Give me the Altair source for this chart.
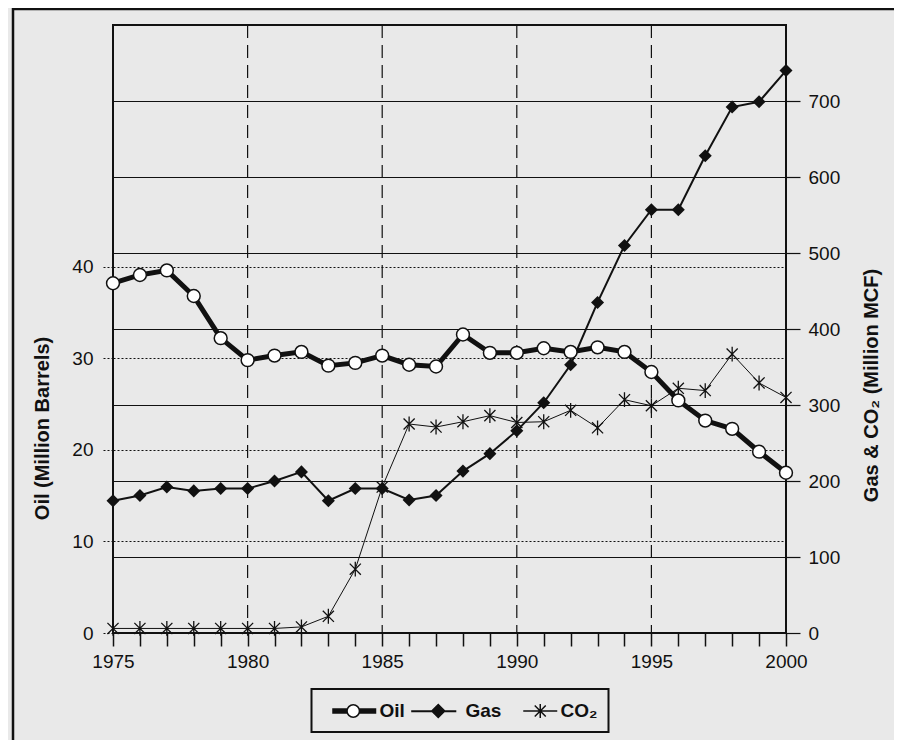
import altair as alt
import pandas as pd

# ---------------- data ----------------
years = list(range(1975, 2001))
oil = [38.2, 39.1, 39.6, 36.8, 32.2, 29.8, 30.3, 30.7, 29.2, 29.5, 30.3, 29.3, 29.1,
       32.6, 30.6, 30.6, 31.1, 30.7, 31.2, 30.7, 28.5, 25.4, 23.2, 22.3, 19.8, 17.5]
gas = [174, 181, 192, 187, 190, 190, 200, 212, 174, 190, 190, 175, 181,
       213, 236, 266, 303, 353, 435, 510, 557, 557, 628, 692, 699, 740]
co2 = [6, 6, 6, 6, 6, 6, 6, 8, 22, 84, 192, 275, 271,
       278, 286, 277, 278, 293, 270, 307, 299, 322, 319, 367, 329, 310]
series_names = ["Oil", "Gas", "CO\u2082"]
oil_ticks = [0, 10, 20, 30, 40]
gas_ticks = [0, 100, 200, 300, 400, 500, 600, 700]
grid_years = [1980, 1985, 1990, 1995]

# ---------------- styling ----------------
FONT = "Liberation Sans"
INK = "#111111"
BG = "#e9e9e9"
W, H = 673, 608

df = pd.DataFrame({"year": years, "oil": oil, "gas": gas, "co2": co2})
legend_df = pd.DataFrame({"series": series_names,
                          "year": [years[0]] * len(series_names),
                          "value": [gas[0]] * len(series_names)})
grid_df = pd.DataFrame({"year": grid_years})
frame_df = pd.DataFrame({"k": [0]})

STAR = "M0,-1L0,1M-0.75,-0.75L0.75,0.75M-0.75,0.75L0.75,-0.75"


# legend symbol paths (line + marker), unit = 10 px
def oil_symbol():
    cx, r, x0, x1 = 1.975, 0.62, -0.125, 4.275
    p = f"M{cx + r},0A{r},{r} 0 1,1 {cx - r},0A{r},{r} 0 1,1 {cx + r},0Z"
    for dy in (-0.2, -0.1, 0, 0.1, 0.2):
        p += f"M{x0},{dy}L{cx - r},{dy}M{cx + r},{dy}L{x1},{dy}"
    return p


def gas_symbol():
    cx, r, x0, x1 = 1.875, 0.65, -0.83, 3.68
    return (f"M{x0},0L{x1},0M{x0},0.06L{x1},0.06"
            f"M{cx - r},0L{cx},{-r}L{cx + r},0L{cx},{r}Z")


def co2_symbol():
    cx, x0, x1, a = 2.575, 0.875, 4.275, 0.55
    return (f"M{x0},0L{x1},0M{cx},-0.7L{cx},0.7"
            f"M{cx - a},{-a}L{cx + a},{a}M{cx - a},{a}L{cx + a},{-a}")


xscale = alt.Scale(domain=[1975, 2000], nice=False, zero=False)
oscale = alt.Scale(domain=[0, 66.4], nice=False, zero=True)
gscale = alt.Scale(domain=[0, 800], nice=False, zero=True)

xaxis = alt.Axis(values=years, format="d",
                 labelExpr="datum.value % 5 == 0 ? datum.label : ''",
                 tickSize=13, tickColor=INK, tickWidth=1.5, domain=False, grid=False,
                 labelFontSize=19, labelFont=FONT, labelColor=INK, labelPadding=6,
                 labelFlush=False, labelOverlap=False, title=None)

oil_axis = alt.Axis(orient="left", values=oil_ticks, grid=True, gridDash=[2, 2],
                    gridColor=INK, gridWidth=1, gridOpacity=1,
                    tickDash=[2, 2], tickSize=12, tickColor=INK, tickWidth=1,
                    domain=False, labelFontSize=19, labelFont=FONT, labelColor=INK,
                    labelPadding=8, title="Oil (Million Barrels)", titleFont=FONT,
                    titleFontSize=20, titleFontWeight="bold", titleColor=INK,
                    titleAngle=270, titleX=-71, titleY=403, titleAlign="center",
                    titleBaseline="middle")

gas_axis = alt.Axis(orient="right", values=gas_ticks, grid=True, gridColor=INK,
                    gridWidth=1.2, gridOpacity=1, tickSize=14, tickColor=INK,
                    tickWidth=1.2, domain=False, labelFontSize=19, labelFont=FONT,
                    labelColor=INK, labelPadding=8,
                    title="Gas & CO\u2082 (Million MCF)", titleFont=FONT,
                    titleFontSize=20, titleFontWeight="bold", titleColor=INK,
                    titleAngle=270, titleX=85, titleY=360, titleAlign="center",
                    titleBaseline="middle")

X = alt.X("year:Q", scale=xscale, axis=xaxis)

legend = alt.Legend(title=None, orient="none", legendX=198.5, legendY=664,
                    direction="horizontal", strokeColor=INK, padding=11,
                    symbolSize=400, symbolStrokeWidth=1.5, symbolStrokeColor=INK,
                    symbolOpacity=1, labelOffset=35, labelFontSize=19,
                    labelFontWeight="bold", labelFont=FONT, labelColor=INK,
                    columnPadding=2, labelLimit=300,
                    labelExpr="datum.index == 2 ? datum.label + '\u00a0\u00a0' : datum.label")

sym_scale_shape = alt.Scale(domain=series_names,
                            range=[oil_symbol(), gas_symbol(), co2_symbol()])
sym_scale_fill = alt.Scale(domain=series_names, range=["white", INK, "transparent"])
sym_scale_stroke = alt.Scale(domain=series_names, range=[INK, INK, INK])

# ---------------- right-axis layer (Gas & CO2) ----------------
base_r = alt.Chart(df)
gas_line = base_r.mark_line(color=INK, strokeWidth=2).encode(
    x=X, y=alt.Y("gas:Q", scale=gscale, axis=gas_axis))
gas_pts = base_r.mark_point(shape="diamond", filled=True, color=INK, size=170,
                            opacity=1).encode(
    x=X, y=alt.Y("gas:Q", scale=gscale, axis=gas_axis))
co2_line = base_r.mark_line(color=INK, strokeWidth=1).encode(
    x=X, y=alt.Y("co2:Q", scale=gscale, axis=gas_axis))
co2_pts = base_r.mark_point(shape=STAR, filled=False, stroke=INK, strokeWidth=1.3,
                            size=220, opacity=1).encode(
    x=X, y=alt.Y("co2:Q", scale=gscale, axis=gas_axis))
legend_layer = alt.Chart(legend_df).mark_point(opacity=0).encode(
    x=X, y=alt.Y("value:Q", scale=gscale, axis=gas_axis),
    shape=alt.Shape("series:N", legend=legend, scale=sym_scale_shape),
    fill=alt.Fill("series:N", legend=legend, scale=sym_scale_fill),
    stroke=alt.Stroke("series:N", legend=legend, scale=sym_scale_stroke))
frame = alt.Chart(frame_df).mark_rect(filled=False, stroke=INK, strokeWidth=2.5).encode(
    x=alt.value(-100), x2=alt.value(1000), y=alt.value(-16), y2=alt.value(1000))
vgrid = alt.Chart(grid_df).mark_rule(color=INK, strokeWidth=1.2,
                                     strokeDash=[13, 7]).encode(x=X)

right = alt.layer(frame, vgrid, gas_line, co2_line, co2_pts, gas_pts, legend_layer)

# ---------------- left-axis layer (Oil) ----------------
base_l = alt.Chart(df)
oil_line = base_l.mark_line(color=INK, strokeWidth=5).encode(
    x=X, y=alt.Y("oil:Q", scale=oscale, axis=oil_axis))
oil_pts = base_l.mark_point(shape="circle", filled=True, fill="white", stroke=INK,
                            strokeWidth=1.5, size=165, opacity=1).encode(
    x=X, y=alt.Y("oil:Q", scale=oscale, axis=oil_axis))
left = alt.layer(oil_line, oil_pts)

chart = alt.layer(right, left).resolve_scale(y="independent").properties(
    width=W, height=H,
    autosize=alt.AutoSizeParams(type="none"),
    padding={"left": 105, "top": 17, "right": 108, "bottom": 107},
    background=BG,
).configure_view(stroke=INK, strokeWidth=2).configure_legend(strokeWidth=2)

chart.save("out.html", embed_options={"renderer": "svg", "actions": False})
